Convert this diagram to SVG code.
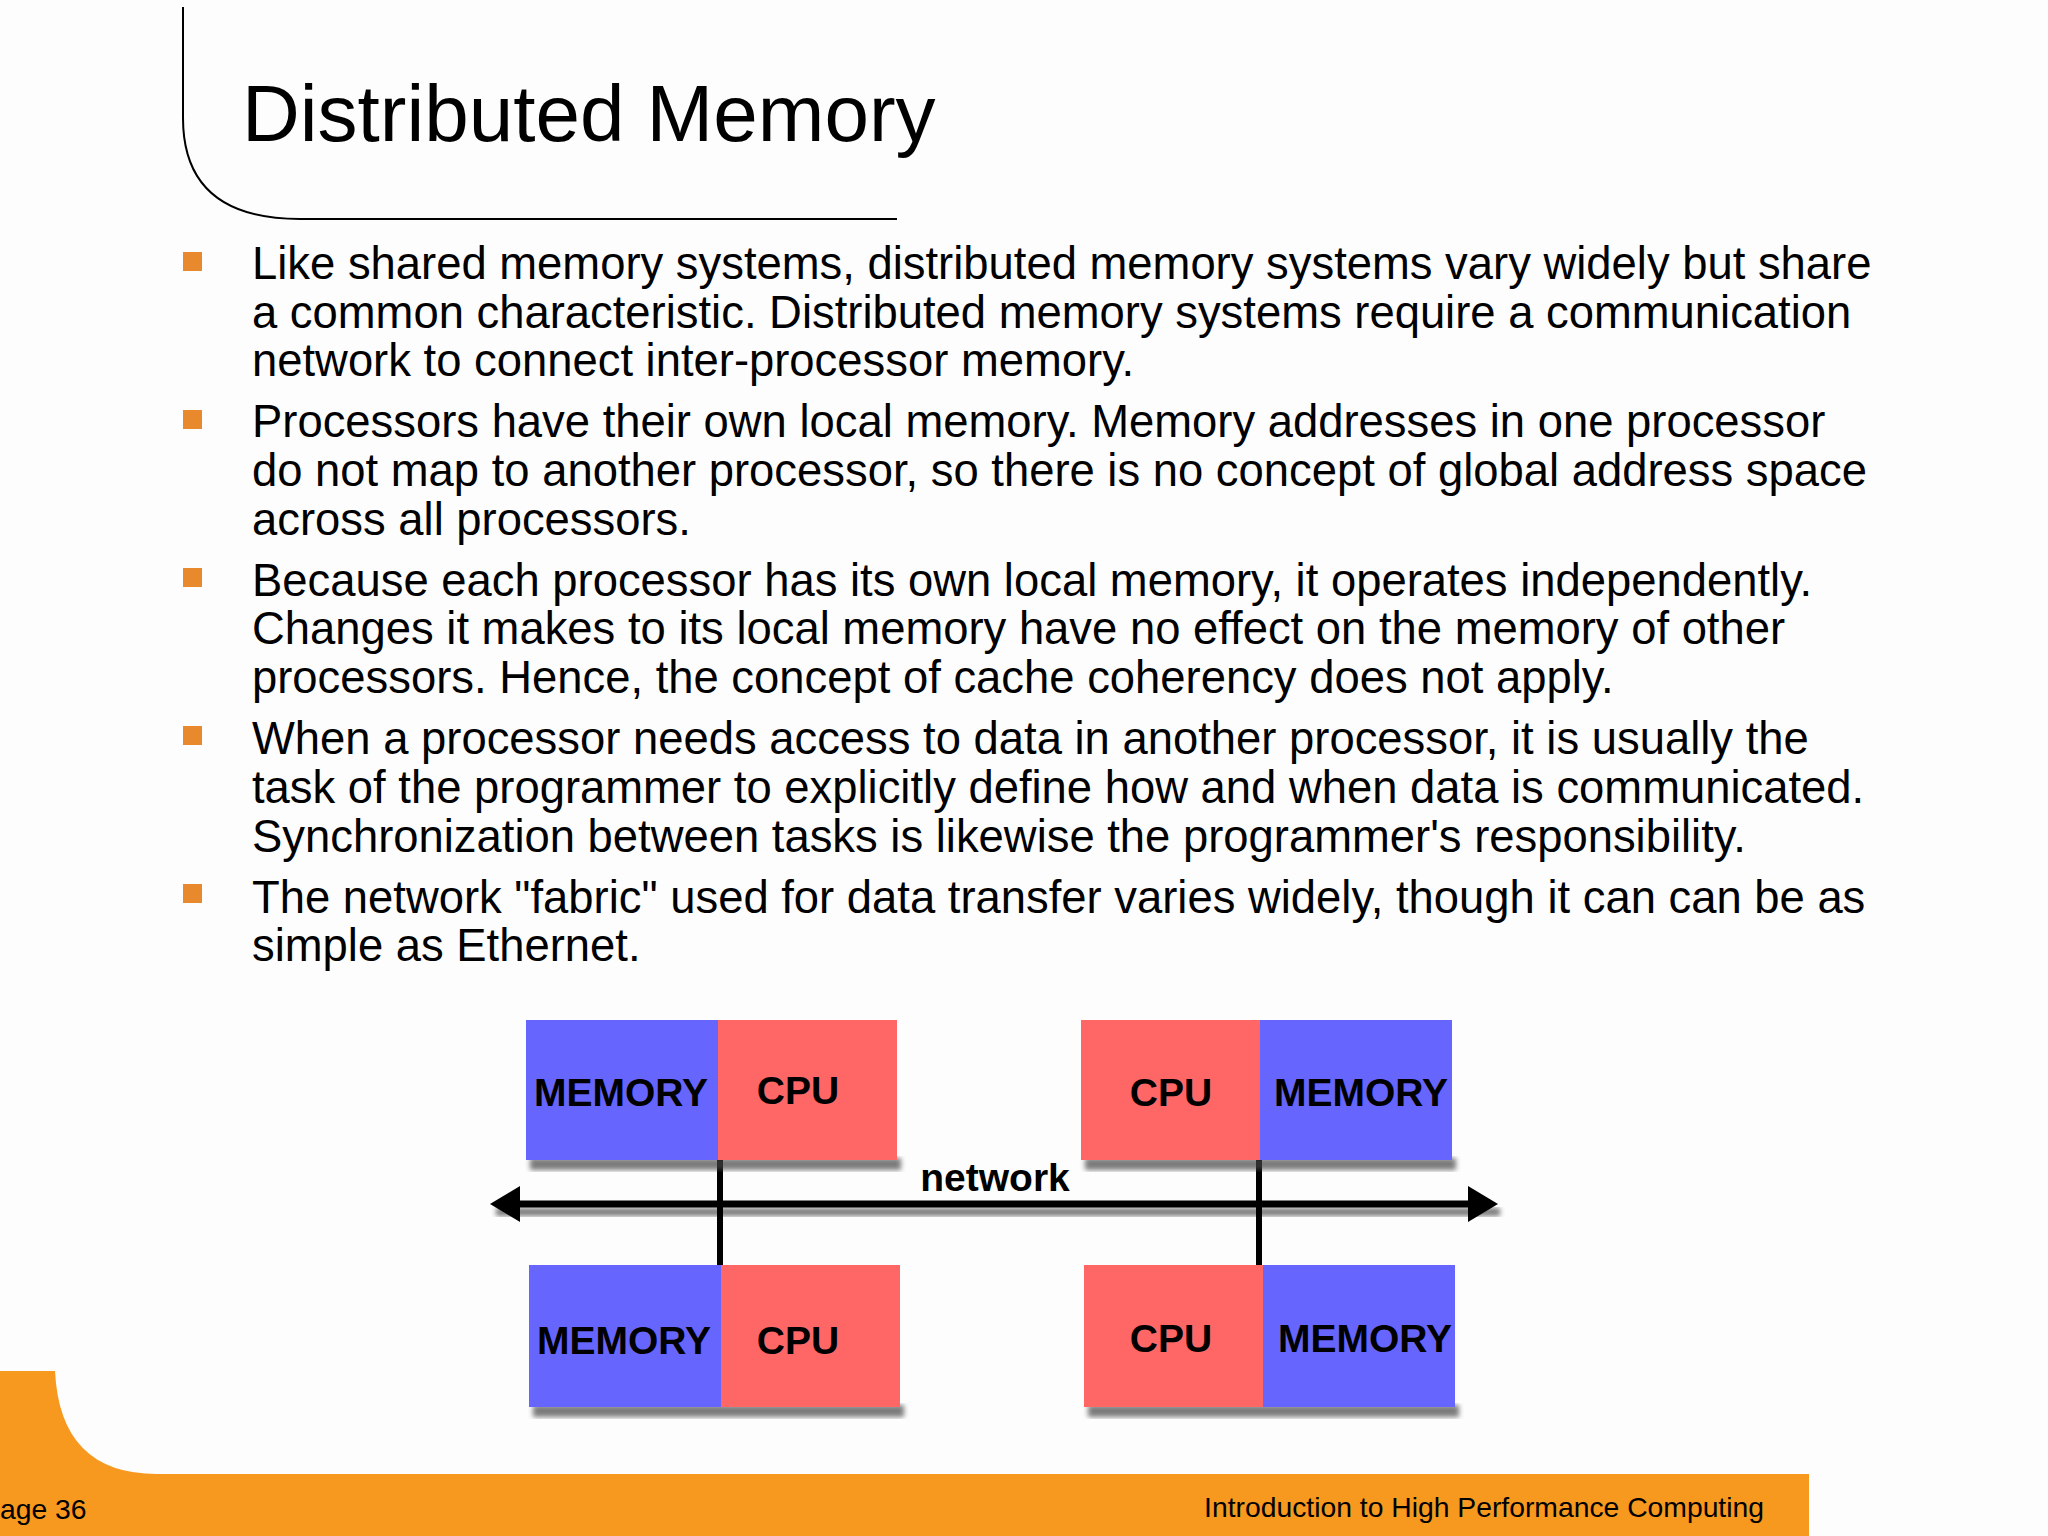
<svg xmlns="http://www.w3.org/2000/svg" width="2048" height="1536" viewBox="0 0 2048 1536">
<defs>
<style>
.t{font-family:"Liberation Sans",Arial,sans-serif;fill:#000}
.b{font-size:45.4px}
.lbl{font-family:"Liberation Sans",Arial,sans-serif;font-weight:bold;font-size:39px;fill:#000;text-anchor:middle}
.mem{fill:#6666ff}.cpu{fill:#ff6666}
.sh{fill:#444;opacity:0.7}
</style>
<filter id="blur"><feGaussianBlur stdDeviation="2.5"/></filter>
</defs>
<rect width="2048" height="1536" fill="#fdfdfd"/>
<path d="M183 7 V118 Q183 219 300 219 H897" fill="none" stroke="#000" stroke-width="2"/>
<text class="t" x="242" y="141" font-size="80">Distributed Memory</text>
<g fill="#e8892e">
<rect x="183" y="252" width="19" height="19"/><rect x="183" y="410" width="19" height="19"/><rect x="183" y="568" width="19" height="19"/><rect x="183" y="726" width="19" height="19"/><rect x="183" y="884" width="19" height="19"/>
</g>
<g class="t b">
<text x="252" y="279">Like shared memory systems, distributed memory systems vary widely but share</text>
<text x="252" y="328">a common characteristic. Distributed memory systems require a communication</text>
<text x="252" y="376">network to connect inter-processor memory.</text>
<text x="252" y="437">Processors have their own local memory. Memory addresses in one processor</text>
<text x="252" y="486">do not map to another processor, so there is no concept of global address space</text>
<text x="252" y="535">across all processors.</text>
<text x="252" y="596">Because each processor has its own local memory, it operates independently.</text>
<text x="252" y="644">Changes it makes to its local memory have no effect on the memory of other</text>
<text x="252" y="693">processors. Hence, the concept of cache coherency does not apply.</text>
<text x="252" y="754">When a processor needs access to data in another processor, it is usually the</text>
<text x="252" y="803">task of the programmer to explicitly define how and when data is communicated.</text>
<text x="252" y="852">Synchronization between tasks is likewise the programmer's responsibility.</text>
<text x="252" y="913">The network "fabric" used for data transfer varies widely, though it can can be as</text>
<text x="252" y="961">simple as Ethernet.</text>
</g>
<g id="connectors">
<rect x="496" y="1208" width="1004" height="8" class="sh" opacity="0.4" filter="url(#blur)"/>
<line x1="720" y1="1160" x2="720" y2="1265" stroke="#000" stroke-width="6"/>
<line x1="1259" y1="1160" x2="1259" y2="1265" stroke="#000" stroke-width="6"/>
<line x1="510" y1="1204" x2="1478" y2="1204" stroke="#000" stroke-width="7"/>
<path d="M490 1204 L520 1186 L520 1222 Z" fill="#000"/>
<path d="M1498 1204 L1468 1186 L1468 1222 Z" fill="#000"/>
<text x="995" y="1191" class="lbl" font-size="36">network</text>
</g>
<g id="node-tl">
<rect x="530" y="1158" width="371" height="12" class="sh" filter="url(#blur)"/>
<rect x="526" y="1020" width="192" height="140" class="mem"/><rect x="718" y="1020" width="179" height="140" class="cpu"/>
<text x="621" y="1106" class="lbl">MEMORY</text><text x="798" y="1104" class="lbl">CPU</text>
</g>
<g id="node-tr">
<rect x="1085" y="1158" width="371" height="12" class="sh" filter="url(#blur)"/>
<rect x="1081" y="1020" width="179" height="140" class="cpu"/><rect x="1260" y="1020" width="192" height="140" class="mem"/>
<text x="1171" y="1106" class="lbl">CPU</text><text x="1361" y="1106" class="lbl">MEMORY</text>
</g>
<g id="node-bl">
<rect x="533" y="1405" width="371" height="12" class="sh" filter="url(#blur)"/>
<rect x="529" y="1265" width="192" height="142" class="mem"/><rect x="721" y="1265" width="179" height="142" class="cpu"/>
<text x="624" y="1354" class="lbl">MEMORY</text><text x="798" y="1354" class="lbl">CPU</text>
</g>
<g id="node-br">
<rect x="1088" y="1405" width="371" height="12" class="sh" filter="url(#blur)"/>
<rect x="1084" y="1265" width="179" height="142" class="cpu"/><rect x="1263" y="1265" width="192" height="142" class="mem"/>
<text x="1171" y="1352" class="lbl">CPU</text><text x="1365" y="1352" class="lbl">MEMORY</text>
</g>
<path d="M0 1371 H55 Q60 1474 157 1474 H1809 V1536 H0 Z" fill="#f7981f"/>
<text class="t" x="0" y="1519" font-size="28.3">age 36</text>
<text class="t" x="1764" y="1517" font-size="28.3" text-anchor="end">Introduction to High Performance Computing</text>
</svg>
